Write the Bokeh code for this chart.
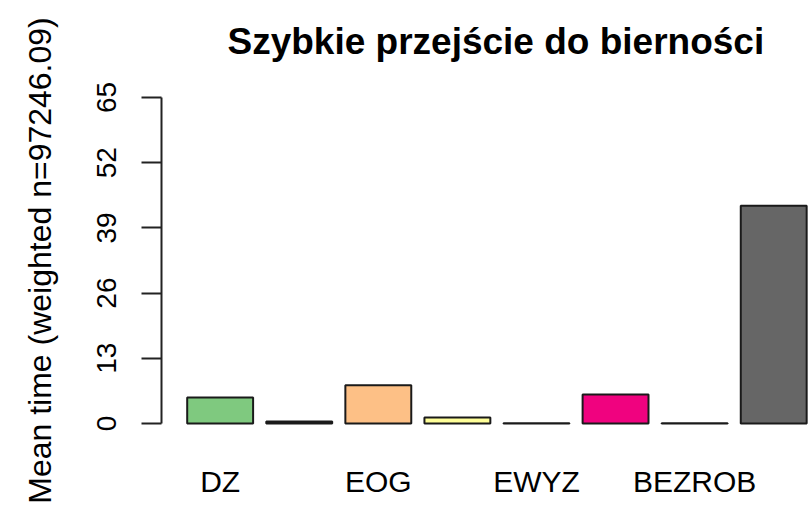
from bokeh.plotting import figure
from bokeh.models import Range1d, LinearAxis, FixedTicker, ColumnDataSource
from bokeh.embed import file_html
from bokeh.resources import INLINE

# --- data ---
bar_values = [5.2, 0.4, 7.6, 1.2, 0.05, 5.8, 0.05, 43.4]
bar_colors = ["#7FC97F", "#BEAED4", "#FDC086", "#FFFF99",
              "#386CB0", "#F0027F", "#BF5B17", "#666666"]
tick_labels = ["DZ", "", "EOG", "", "EWYZ", "", "BEZROB", ""]
y_ticks = [0, 13, 26, 39, 52, 65]
title_text = "Szybkie przejście do bierności"
y_label = "Mean time (weighted n=97246.09)"

# R barplot layout: width 1, space 0.2
centers = [round(0.7 + 1.2 * i, 2) for i in range(len(bar_values))]

src = ColumnDataSource(dict(x=centers, top=bar_values, color=bar_colors))

p = figure(width=809, height=507,
           x_range=Range1d(-0.19, 9.643), y_range=Range1d(-2.6, 67.6),
           output_backend="svg", toolbar_location=None,
           x_axis_location=None, y_axis_location=None,
           min_border_left=161, min_border_right=0,
           min_border_top=84, min_border_bottom=71)
p.outline_line_color = None
p.xgrid.visible = False
p.ygrid.visible = False
p.background_fill_color = "white"
p.border_fill_color = "white"

p.vbar(x="x", top="top", bottom=0, width=1.0, source=src,
       fill_color="color", line_color="#1a1a1a", line_width=2)

FONT = "Liberation Sans"

# title
p.title.text = title_text
p.title.text_font = FONT
p.title.text_font_size = "37px"
p.title.text_font_style = "bold"
p.title.text_color = "black"
p.title.align = "left"
p.title.vertical_align = "top"
p.title.offset = 66
p.title.standoff = 41

# y axis
yax = LinearAxis(ticker=FixedTicker(ticks=y_ticks), bounds=(0, 65))
yax.major_tick_out = 20
yax.major_tick_in = 0
yax.minor_tick_line_color = None
yax.major_tick_line_width = 2
yax.axis_line_width = 2
yax.axis_line_color = "#222"
yax.major_tick_line_color = "#222"
yax.major_label_orientation = "vertical"
yax.major_label_text_font = FONT
yax.major_label_text_font_size = "28px"
yax.major_label_text_color = "black"
yax.major_label_standoff = 25
yax.axis_label = y_label
yax.axis_label_text_font = FONT
yax.axis_label_text_font_size = "32px"
yax.axis_label_text_font_style = "normal"
yax.axis_label_text_color = "black"
yax.axis_label_standoff = 37
p.add_layout(yax, "left")

# x axis (category labels only)
shown = [(c, t) for c, t in zip(centers, tick_labels) if t]
xax = LinearAxis(ticker=FixedTicker(ticks=[c for c, _ in shown]))
xax.major_label_overrides = {c: t for c, t in shown}
xax.axis_line_color = None
xax.major_tick_line_color = None
xax.minor_tick_line_color = None
xax.major_label_text_font = FONT
xax.major_label_text_font_size = "30px"
xax.major_label_text_color = "black"
xax.major_label_standoff = 22
p.add_layout(xax, "below")

open("out.html", "w").write(file_html(p, INLINE))
